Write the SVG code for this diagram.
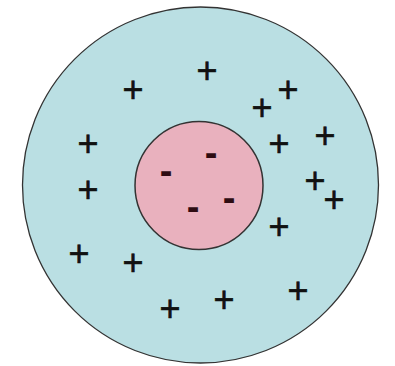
<svg xmlns="http://www.w3.org/2000/svg" width="395" height="366" viewBox="0 0 395 366">
<style>
.p{font-family:"Liberation Sans",Arial,sans-serif;font-size:36px;fill:#111;stroke:#111;stroke-width:0.6;text-anchor:middle}
.m{font-family:"Liberation Sans",Arial,sans-serif;font-size:38px;font-weight:bold;fill:#2e0c12;text-anchor:middle}
</style>
<rect width="395" height="366" fill="#ffffff"/>
<g id="outer">
<circle cx="200.5" cy="185" r="178" fill="#badfe3" stroke="#333" stroke-width="1.3"/>
</g>
<g id="inner">
<circle cx="199" cy="185.5" r="64" fill="#e9b1be" stroke="#333" stroke-width="1.5"/>
</g>
<g id="plus">
<text class="p" x="207" y="83">+</text>
<text class="p" x="133" y="102">+</text>
<text class="p" x="288" y="102">+</text>
<text class="p" x="262" y="120">+</text>
<text class="p" x="325" y="148">+</text>
<text class="p" x="279" y="156">+</text>
<text class="p" x="88" y="156">+</text>
<text class="p" x="88" y="202">+</text>
<text class="p" x="315" y="193">+</text>
<text class="p" x="334" y="212">+</text>
<text class="p" x="279" y="239">+</text>
<text class="p" x="79" y="266">+</text>
<text class="p" x="133" y="275">+</text>
<text class="p" x="298" y="303">+</text>
<text class="p" x="224" y="312">+</text>
<text class="p" x="170" y="321">+</text>
</g>
<g id="minus">
<text class="m" x="211" y="166">-</text>
<text class="m" x="166" y="184">-</text>
<text class="m" x="229" y="211">-</text>
<text class="m" x="193" y="220">-</text>
</g>
</svg>
